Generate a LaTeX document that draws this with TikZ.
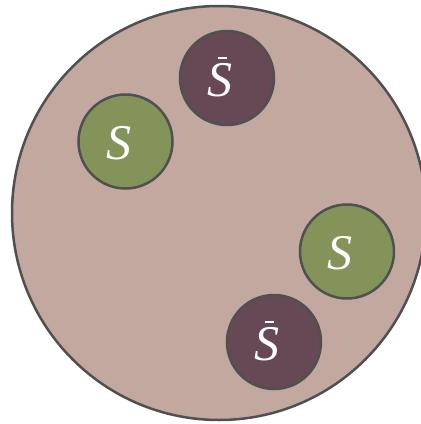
\documentclass[tikz,border=0pt]{standalone}
\usepackage{fontspec}
\setmainfont{Liberation Serif}
\definecolor{bgc}{HTML}{C2A89F}
\definecolor{darkc}{HTML}{674855}
\definecolor{greenc}{HTML}{83935A}
\definecolor{linec}{HTML}{505050}
\newcommand{\sbarsym}{\smash{\makebox[0pt][l]{\hspace{10pt}\rule[37.5pt]{9.5pt}{2pt}}}S}
\tikzset{
  outer/.style={circle, draw=linec, line width=2.5pt, fill=bgc, minimum size=414pt, inner sep=0pt},
  ball/.style={circle, draw=linec, line width=2.5pt, minimum size=94pt, inner sep=0pt},
  sbar/.style={ball, fill=darkc},
  sgreen/.style={ball, fill=greenc},
  lbl/.style={text=white, inner sep=0pt, font=\fontsize{50}{54}\selectfont\itshape, xshift=-7pt, yshift=-2pt}
}
\begin{document}
\begin{tikzpicture}[x=1pt,y=-1pt]
\useasboundingbox (0,0) rectangle (421,424);
\node[outer] (big) at (219,213) {};
\node[sbar] (b1) at (227,78) {};
\node[sgreen] (g1) at (125.5,141.5) {};
\node[sgreen] (g2) at (347,251.5) {};
\node[sbar] (b2) at (274,342) {};
\node[lbl] (b1t) at (b1) {\sbarsym};
\node[lbl] (g1t) at (g1) {S};
\node[lbl] (g2t) at (g2) {S};
\node[lbl] (b2t) at (b2) {\sbarsym};
\end{tikzpicture}
\end{document}
